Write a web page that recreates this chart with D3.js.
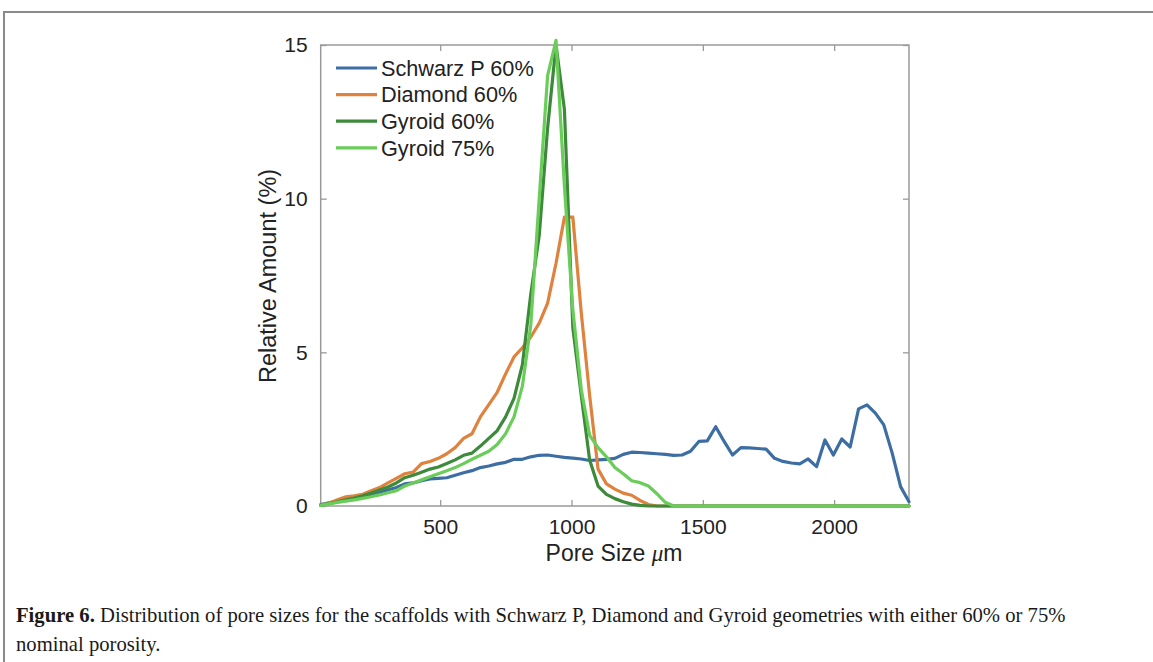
<!DOCTYPE html>
<html>
<head>
<meta charset="utf-8">
<script src="https://cdn.jsdelivr.net/npm/d3@7"></script>
<style>
  html, body { margin: 0; padding: 0; background: #fff; }
  svg { display: block; }
  .tick text { font-family: "Liberation Sans", Arial, sans-serif; font-size: 21px; fill: #222; }
</style>
</head>
<body>
<div id="chart"></div>
<script>
// pore size bins (um)
const poreSize = [45, 77, 109, 141, 173, 205, 237, 269, 301, 333, 365, 397, 429, 461, 493, 525, 557, 589, 621, 653,
  685, 717, 749, 781, 813, 845, 877, 909, 941, 973, 1005, 1037, 1069, 1101, 1133, 1165, 1197, 1229, 1261, 1293,
  1325, 1357, 1389, 1421, 1453, 1485, 1517, 1549, 1581, 1613, 1645, 1677, 1709, 1741, 1773, 1805, 1837, 1869, 1901, 1933,
  1965, 1997, 2029, 2061, 2093, 2125, 2157, 2189, 2221, 2253, 2285];

const schwarzP60 = [0.05, 0.1, 0.15, 0.2, 0.25, 0.3, 0.38, 0.45, 0.52, 0.6, 0.72, 0.75, 0.82, 0.88, 0.9, 0.92, 1.0, 1.08, 1.15, 1.25,
  1.3, 1.37, 1.42, 1.52, 1.52, 1.6, 1.65, 1.66, 1.62, 1.58, 1.56, 1.53, 1.48, 1.5, 1.52, 1.55, 1.68, 1.75, 1.74, 1.72,
  1.7, 1.68, 1.65, 1.66, 1.78, 2.1, 2.12, 2.58, 2.1, 1.66, 1.9, 1.89, 1.87, 1.85, 1.55, 1.45, 1.4, 1.37, 1.53, 1.28,
  2.15, 1.66, 2.18, 1.92, 3.16, 3.29, 3.02, 2.64, 1.72, 0.63, 0.14];

const diamond60 = [0.02, 0.1, 0.2, 0.3, 0.33, 0.38, 0.5, 0.6, 0.75, 0.9, 1.05, 1.1, 1.38, 1.45, 1.55, 1.7, 1.9, 2.2, 2.35, 2.9,
  3.3, 3.7, 4.3, 4.85, 5.15, 5.5, 5.95, 6.6, 7.9, 9.4, 9.4, 6.3, 3.6, 1.2, 0.72, 0.55, 0.42, 0.35, 0.18, 0.05,
  0, 0, 0, 0, 0, 0, 0, 0, 0, 0, 0, 0, 0, 0, 0, 0, 0, 0, 0, 0,
  0, 0, 0, 0, 0, 0, 0, 0, 0, 0, 0];

const gyroid60 = [0.02, 0.08, 0.14, 0.2, 0.26, 0.33, 0.42, 0.52, 0.62, 0.75, 0.92, 1.0, 1.1, 1.2, 1.27, 1.38, 1.5, 1.65, 1.72, 1.95,
  2.2, 2.45, 2.9, 3.5, 4.6, 6.9, 8.8, 12.3, 15.0, 12.9, 5.8, 3.6, 1.5, 0.65, 0.38, 0.24, 0.14, 0.06, 0.02, 0,
  0, 0, 0, 0, 0, 0, 0, 0, 0, 0, 0, 0, 0, 0, 0, 0, 0, 0, 0, 0,
  0, 0, 0, 0, 0, 0, 0, 0, 0, 0, 0];

const gyroid75 = [0.02, 0.07, 0.12, 0.16, 0.2, 0.25, 0.3, 0.36, 0.43, 0.5, 0.65, 0.75, 0.85, 0.95, 1.05, 1.15, 1.25, 1.38, 1.52, 1.65,
  1.78, 2.0, 2.35, 2.9, 3.9, 5.9, 10.0, 14.0, 15.15, 10.4, 6.4, 3.8, 2.3, 1.9, 1.6, 1.25, 1.05, 0.82, 0.76, 0.65,
  0.4, 0.12, 0, 0, 0, 0, 0, 0, 0, 0, 0, 0, 0, 0, 0, 0, 0, 0, 0, 0,
  0, 0, 0, 0, 0, 0, 0, 0, 0, 0, 0];

const seriesNames = ["Schwarz P 60%", "Diamond 60%", "Gyroid 60%", "Gyroid 75%"];
const seriesColors = ["#3d6ea3", "#df823e", "#3d8a3a", "#6acd5a"];
const xTicks = [500, 1000, 1500, 2000];
const yTicks = [0, 5, 10, 15];

const W = 1153, H = 662;
const plotLeft = 320.7, plotRight = 909, plotTop = 45, plotBottom = 506;

const svg = d3.select("#chart").append("svg")
    .attr("width", W)
    .attr("height", H);

// figure frame (top + left edges visible)
svg.append("path")
    .attr("d", `M4,${H + 5} L4,12 L${W + 5},12`)
    .attr("fill", "none")
    .attr("stroke", "#8a8a8a")
    .attr("stroke-width", 2);

const x = d3.scaleLinear().domain([45, 2285]).range([plotLeft, plotRight]);
const y = d3.scaleLinear().domain([0, 15]).range([plotBottom, plotTop]);

const axisColor = "#9a9a9a";

// axes, ticks pointing inwards
const gx = svg.append("g").attr("transform", `translate(0,${plotBottom})`)
    .call(d3.axisBottom(x).tickValues(xTicks).tickFormat(d3.format("d"))
        .tickSizeInner(-6).tickSizeOuter(0).tickPadding(13));
const gxTop = svg.append("g").attr("transform", `translate(0,${plotTop})`)
    .call(d3.axisTop(x).tickValues(xTicks).tickSizeInner(-6).tickSizeOuter(0).tickFormat(""));
const gy = svg.append("g").attr("transform", `translate(${plotLeft},0)`)
    .call(d3.axisLeft(y).tickValues(yTicks).tickFormat(d3.format("d"))
        .tickSizeInner(-6).tickSizeOuter(0).tickPadding(13));
const gyRight = svg.append("g").attr("transform", `translate(${plotRight},0)`)
    .call(d3.axisRight(y).tickValues(yTicks).tickSizeInner(-6).tickSizeOuter(0).tickFormat(""));

[gx, gxTop, gy, gyRight].forEach(g => {
    g.select(".domain").remove();
    g.selectAll(".tick line").attr("stroke", axisColor).attr("stroke-width", 1.3);
});

svg.append("rect")
    .attr("x", plotLeft).attr("y", plotTop)
    .attr("width", plotRight - plotLeft).attr("height", plotBottom - plotTop)
    .attr("fill", "none")
    .attr("stroke", axisColor)
    .attr("stroke-width", 1.5);

// lines
const allSeries = [schwarzP60, diamond60, gyroid60, gyroid75];
const line = d3.line()
    .x((d, i) => x(poreSize[i]))
    .y(d => y(d));

svg.append("g").selectAll("path")
    .data(allSeries)
    .enter().append("path")
    .attr("d", d => line(d))
    .attr("fill", "none")
    .attr("stroke", (d, i) => seriesColors[i])
    .attr("stroke-width", 3.2)
    .attr("stroke-linejoin", "round")
    .attr("stroke-linecap", "round");

// legend
const legend = svg.append("g").attr("transform", "translate(336,68)");
const rows = legend.selectAll("g")
    .data(seriesNames)
    .enter().append("g")
    .attr("transform", (d, i) => `translate(0,${i * 26.6})`);
rows.append("line")
    .attr("x1", 0).attr("x2", 41)
    .attr("y1", 0).attr("y2", 0)
    .attr("stroke", (d, i) => seriesColors[i])
    .attr("stroke-width", 3.2);
rows.append("text")
    .attr("x", 45)
    .attr("dy", "0.36em")
    .style("font-family", "'Liberation Sans', Arial, sans-serif")
    .style("font-size", "21.7px")
    .attr("fill", "#222")
    .text(d => d);

// axis labels
svg.append("text")
    .attr("transform", "translate(276,276) rotate(-90)")
    .attr("text-anchor", "middle")
    .style("font-family", "'Liberation Sans', Arial, sans-serif")
    .style("font-size", "23.5px")
    .attr("fill", "#222")
    .text("Relative Amount (%)");

const xl = svg.append("text")
    .attr("x", 614)
    .attr("y", 561)
    .attr("text-anchor", "middle")
    .style("font-family", "'Liberation Sans', Arial, sans-serif")
    .style("font-size", "23px")
    .attr("fill", "#222");
xl.append("tspan").text("Pore Size ");
xl.append("tspan").style("font-family", "'Liberation Serif', serif").style("font-style", "italic").text("μ");
xl.append("tspan").text("m");

// caption
const cap = svg.append("g");
const capFont = "'Liberation Serif', 'DejaVu Serif', serif";
const line1 = cap.append("text")
    .attr("x", 0).attr("y", 622)
    .style("font-family", capFont)
    .style("font-size", "21px")
    .attr("fill", "#1a1a1a");
line1.append("tspan").style("font-weight", "bold").text("Figure 6.");
line1.append("tspan").text(" Distribution of pore sizes for the scaffolds with Schwarz P, Diamond and Gyroid geometries with either 60% or 75%");
cap.append("text")
    .attr("x", 0).attr("y", 651)
    .style("font-family", capFont)
    .style("font-size", "21px")
    .attr("fill", "#1a1a1a")
    .text("nominal porosity.");

const natural = line1.node().getComputedTextLength();
const sx = 1050 / natural;
cap.attr("transform", `translate(16,0) scale(${sx},1)`);
</script>
</body>
</html>
